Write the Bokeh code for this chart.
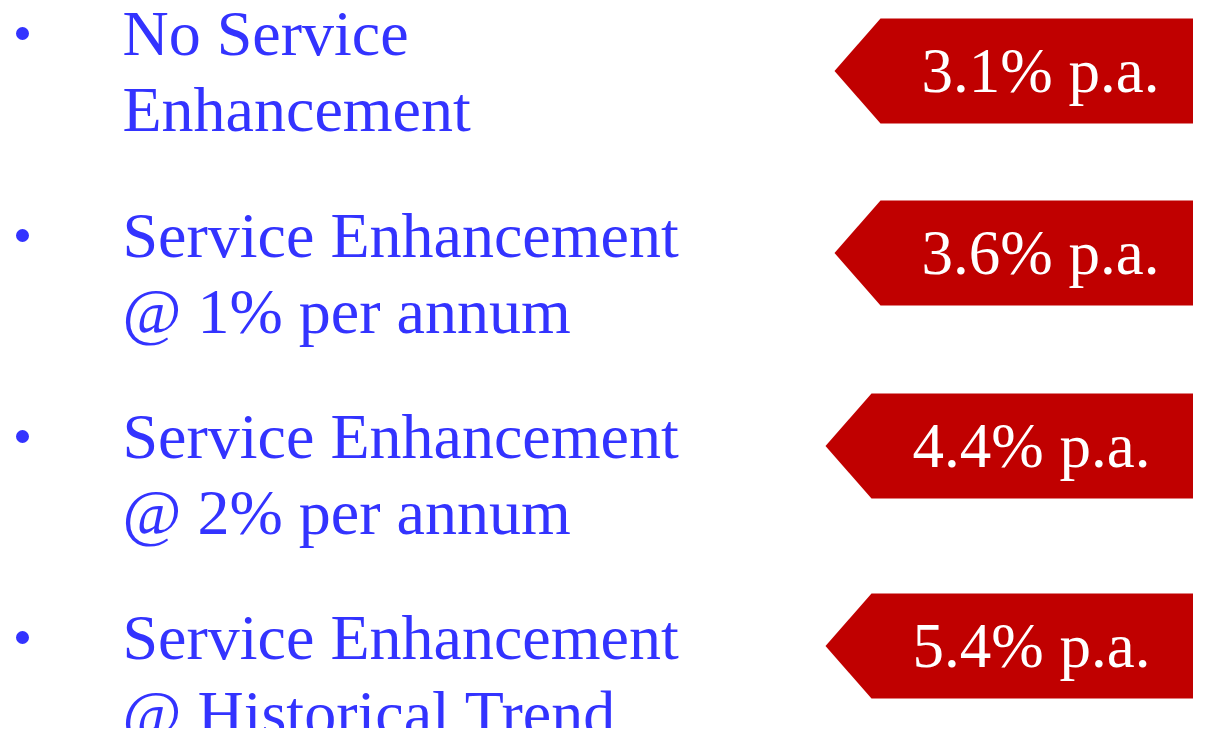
from bokeh.plotting import figure
from bokeh.models import Range1d, ColumnDataSource
from bokeh.core.properties import value
from bokeh.embed import file_html
from bokeh.resources import INLINE

# ---- data ----
scenarios = [
    ["No Service", "Enhancement"],
    ["Service Enhancement", "@ 1% per annum"],
    ["Service Enhancement", "@ 2% per annum"],
    ["Service Enhancement", "@ Historical Trend"],
]
growth_rates = [3.1, 3.6, 4.4, 5.4]
rate_labels = [f"{r:.1f}% p.a." for r in growth_rates]

# ---- layout (reference pixel coordinates) ----
row_baselines = [52, 254, 455, 656]
line_gap = 76
bullet_offset = -19
text_x = 122
bullet_x = 22
badge_tops = [18, 200, 393, 593]
badge_h = 105
badge_tip_x = [834, 834, 825, 825]
badge_shoulder = 46
badge_right = 1220
badge_text_x = [1040, 1040, 1031, 1031]
badge_text_dy = 71
text_shift = -19  # renderer baseline correction

BLUE = "#3333FF"
RED = "#C00000"
FONT = value("Liberation Serif")

W, H = 1193, 728
p = figure(width=W, height=H, output_backend="svg", toolbar_location=None,
           x_range=Range1d(0, W), y_range=Range1d(H, 0),
           min_border=0, min_border_left=0, min_border_right=0,
           min_border_top=0, min_border_bottom=0)
p.axis.visible = False
p.grid.visible = False
p.outline_line_color = None
p.background_fill_color = "white"
p.border_fill_color = "white"

# left text lines
tx, ty, tt = [], [], []
for lines, base in zip(scenarios, row_baselines):
    for i, ln in enumerate(lines):
        tx.append(text_x)
        ty.append(base + i * line_gap + text_shift)
        tt.append(ln)
p.text(x="x", y="y", text="t", source=ColumnDataSource(dict(x=tx, y=ty, t=tt)),
       text_font=FONT, text_font_size="64px", text_color=BLUE,
       text_baseline="alphabetic", text_align="left")

# bullets
p.scatter(x=[bullet_x] * len(scenarios), y=[b + bullet_offset for b in row_baselines],
          size=13, marker="circle", fill_color=BLUE, line_color=None)

# badges
xs, ys = [], []
for top, tip in zip(badge_tops, badge_tip_x):
    bot = top + badge_h
    mid = (top + bot) / 2
    xs.append([tip, tip + badge_shoulder, badge_right, badge_right, tip + badge_shoulder])
    ys.append([mid, top, top, bot, bot])
p.patches(xs=xs, ys=ys, fill_color=RED, line_color=None)

p.text(x=badge_text_x, y=[t + badge_text_dy + text_shift for t in badge_tops], text=rate_labels,
       text_font=FONT, text_font_size="63px", text_color="white",
       text_baseline="alphabetic", text_align="center")

open("out.html", "w").write(file_html(p, INLINE))
